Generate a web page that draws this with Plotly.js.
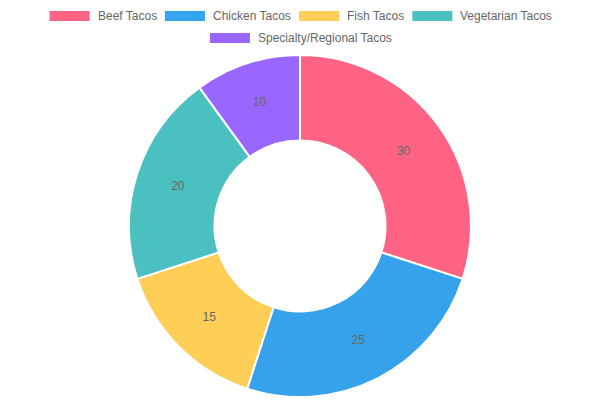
<!DOCTYPE html>
<html>
<head>
<meta charset="utf-8">
<script src="https://cdn.plot.ly/plotly-3.0.1.min.js"></script>
<style>html,body{margin:0;padding:0;background:#fff;}#chart{width:600px;height:400px;}</style>
</head>
<body>
<div id="chart"></div>
<script>
const categories = ["Beef Tacos", "Chicken Tacos", "Fish Tacos", "Vegetarian Tacos", "Specialty/Regional Tacos"];
const values = [30, 25, 15, 20, 10];
const colors = ["#FF6384", "#36A2EB", "#FFCE56", "#4BC0C0", "#9966FF"];

const W = 600, H = 400;
const FONT = "'Liberation Sans', Arial, Helvetica, sans-serif";

// custom Chart.js-style legend layout
const ctx = document.createElement('canvas').getContext('2d');
ctx.font = "12px 'Liberation Sans', Arial";
const rows = [[0,1,2,3],[4]];
const rowY = [16, 38];
const shapes = [], annotations = [];
rows.forEach((row, ri) => {
  const widths = row.map(i => 40 + 6 + ctx.measureText(categories[i]).width);
  const total = widths.reduce((a,b)=>a+b,0) + 10*(row.length-1);
  let x = W/2 - total/2;
  row.forEach((i, k) => {
    const y = rowY[ri];
    shapes.push({type:'rect', xref:'paper', yref:'paper',
      x0: x/W, x1: (x+40)/W, y0: 1-(y-5)/H, y1: 1-(y+5)/H,
      fillcolor: colors[i], line:{width:0}});
    annotations.push({xref:'paper', yref:'paper', x:(x+46)/W, y:1-y/H,
      xanchor:'left', yanchor:'middle', showarrow:false, text:categories[i],
      font:{family:FONT, size:12, color:'#666'}});
    x += widths[k] + 10;
  });
});

const cx = 300, cy = 226, r = 171;
const trace = {
  type:'pie', labels:categories, values:values, hole:0.5, sort:false,
  direction:'clockwise', rotation:0,
  marker:{colors:colors, line:{color:'#fff', width:2}},
  textinfo:'value', textposition:'inside', insidetextorientation:'horizontal',
  textfont:{family:FONT, size:12, color:'#666'},
  hoverinfo:'label+value',
  domain:{x:[(cx-r)/W, (cx+r)/W], y:[1-(cy+r)/H, 1-(cy-r)/H]}
};
Plotly.newPlot('chart', [trace], {
  width:W, height:H, margin:{l:0,r:0,t:0,b:0},
  paper_bgcolor:'#fff', showlegend:false,
  shapes:shapes, annotations:annotations,
  font:{family:FONT}
}, {displayModeBar:false, staticPlot:true});
</script>
</body>
</html>
